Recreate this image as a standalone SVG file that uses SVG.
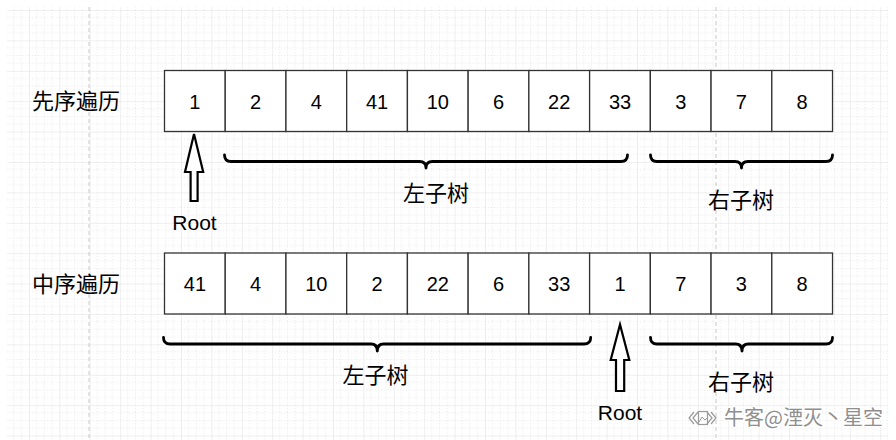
<svg xmlns="http://www.w3.org/2000/svg" width="896" height="440" viewBox="0 0 896 440">
<style>
.cell{fill:#ffffff;stroke:#333333;stroke-width:1.3}
.num{font-family:"Liberation Sans",Arial,sans-serif;font-size:20px;fill:#000;text-anchor:middle}
.cjk{font-family:"Liberation Sans","Noto Sans CJK SC",sans-serif;font-size:22px;fill:#000;text-anchor:middle}
.root{font-family:"Liberation Sans",Arial,sans-serif;font-size:21px;fill:#000;text-anchor:middle}
.brace{fill:none;stroke:#000;stroke-width:2.8;stroke-linecap:round;stroke-linejoin:round}
.arrow{fill:#ffffff;stroke:#000;stroke-width:2.2;stroke-linejoin:miter}
.wm{font-family:"Noto Sans CJK SC",sans-serif;font-size:20px;fill:#8f8f8f;stroke:#ffffff;stroke-width:3;paint-order:stroke}
</style>
<defs>
<pattern id="grid" patternUnits="userSpaceOnUse" x="29" y="10" width="30.4" height="30.4">
<path d="M7.6 0V30.4M15.2 0V30.4M22.8 0V30.4M0 7.6H30.4M0 15.2H30.4M0 22.8H30.4" stroke="#e6e6e6" stroke-width="1" stroke-dasharray="1,2" fill="none"/>
<path d="M0 0V30.4M0 0H30.4" stroke="#e0e0e0" stroke-width="1" fill="none"/>
</pattern>
</defs>
<rect width="896" height="440" fill="#ffffff"/>
<rect x="7" y="7" width="881" height="433" fill="url(#grid)"/>
<path d="M89 7V440M716 7V440" stroke="#c8c8c8" stroke-width="1" stroke-dasharray="4,3" fill="none"/>

<g id="label-preorder"><text class="cjk" x="76" y="109">先序遍历</text></g>
<g id="label-inorder"><text class="cjk" x="76" y="292">中序遍历</text></g>

<g id="preorder">
<g id="p0"><rect class="cell" x="164.5" y="70.5" width="60.73" height="61"/><text class="num" x="194.9" y="108.5">1</text></g>
<g id="p1"><rect class="cell" x="225.23" y="70.5" width="60.73" height="61"/><text class="num" x="255.6" y="108.5">2</text></g>
<g id="p2"><rect class="cell" x="285.96" y="70.5" width="60.73" height="61"/><text class="num" x="316.3" y="108.5">4</text></g>
<g id="p3"><rect class="cell" x="346.69" y="70.5" width="60.73" height="61"/><text class="num" x="377.0" y="108.5">41</text></g>
<g id="p4"><rect class="cell" x="407.42" y="70.5" width="60.73" height="61"/><text class="num" x="437.8" y="108.5">10</text></g>
<g id="p5"><rect class="cell" x="468.15" y="70.5" width="60.73" height="61"/><text class="num" x="498.5" y="108.5">6</text></g>
<g id="p6"><rect class="cell" x="528.88" y="70.5" width="60.73" height="61"/><text class="num" x="559.2" y="108.5">22</text></g>
<g id="p7"><rect class="cell" x="589.61" y="70.5" width="60.73" height="61"/><text class="num" x="620.0" y="108.5">33</text></g>
<g id="p8"><rect class="cell" x="650.34" y="70.5" width="60.73" height="61"/><text class="num" x="680.7" y="108.5">3</text></g>
<g id="p9"><rect class="cell" x="711.07" y="70.5" width="60.73" height="61"/><text class="num" x="741.4" y="108.5">7</text></g>
<g id="p10"><rect class="cell" x="771.8" y="70.5" width="60.73" height="61"/><text class="num" x="802.1" y="108.5">8</text></g>
</g>

<g id="inorder">
<g id="i0"><rect class="cell" x="164.5" y="253" width="60.73" height="61"/><text class="num" x="194.9" y="291">41</text></g>
<g id="i1"><rect class="cell" x="225.23" y="253" width="60.73" height="61"/><text class="num" x="255.6" y="291">4</text></g>
<g id="i2"><rect class="cell" x="285.96" y="253" width="60.73" height="61"/><text class="num" x="316.3" y="291">10</text></g>
<g id="i3"><rect class="cell" x="346.69" y="253" width="60.73" height="61"/><text class="num" x="377.0" y="291">2</text></g>
<g id="i4"><rect class="cell" x="407.42" y="253" width="60.73" height="61"/><text class="num" x="437.8" y="291">22</text></g>
<g id="i5"><rect class="cell" x="468.15" y="253" width="60.73" height="61"/><text class="num" x="498.5" y="291">6</text></g>
<g id="i6"><rect class="cell" x="528.88" y="253" width="60.73" height="61"/><text class="num" x="559.2" y="291">33</text></g>
<g id="i7"><rect class="cell" x="589.61" y="253" width="60.73" height="61"/><text class="num" x="620.0" y="291">1</text></g>
<g id="i8"><rect class="cell" x="650.34" y="253" width="60.73" height="61"/><text class="num" x="680.7" y="291">7</text></g>
<g id="i9"><rect class="cell" x="711.07" y="253" width="60.73" height="61"/><text class="num" x="741.4" y="291">3</text></g>
<g id="i10"><rect class="cell" x="771.8" y="253" width="60.73" height="61"/><text class="num" x="802.1" y="291">8</text></g>
</g>

<g id="connectors">
<path class="arrow" d="M194 134L203.2 172H197.6V201H190.6V172H185Z"/>
<path class="arrow" d="M620 324.5L629.3 360H624.2V391H616V360H610.7Z"/>
<path class="brace" d="M224.5 155Q224.5 161.5 231 161.5H419.5Q426 161.5 426 168Q426 161.5 432.5 161.5H621Q627.5 161.5 627.5 155"/>
<path class="brace" d="M650.5 155Q650.5 161.5 657 161.5H735Q741.5 161.5 741.5 168Q741.5 161.5 748 161.5H826Q832.5 161.5 832.5 155"/>
<path class="brace" d="M163.5 337.5Q163.5 344 170 344H371Q377.3 344 377.3 351Q377.3 344 383.6 344H584Q590.7 344 590.7 337.5"/>
<path class="brace" d="M650.5 337.5Q650.5 344 657 344H735.5Q742 344 742 351Q742 344 748.5 344H826Q832.5 344 832.5 337.5"/>
</g>

<g id="label-root1"><text class="root" x="194.5" y="230">Root</text></g>
<g id="label-root2"><text class="root" x="620" y="419.5">Root</text></g>
<g id="label-left1"><text class="cjk" x="436" y="200.5">左子树</text></g>
<g id="label-right1"><text class="cjk" x="741" y="208">右子树</text></g>
<g id="label-left2"><text class="cjk" x="375.5" y="383">左子树</text></g>
<g id="label-right2"><text class="cjk" x="741" y="390">右子树</text></g>

<g id="watermark">
<path d="M694 412L689 418L694 424M698 412L693 418L698 424M711 412L716 418L711 424M707 412L712 418L707 424" fill="none" stroke="#9a9a9a" stroke-width="1.2"/>
<rect x="698.5" y="411.5" width="9" height="13" fill="none" stroke="#9a9a9a" stroke-width="1.2"/>
<path d="M699 422L702 417L705 420L707 418" fill="none" stroke="#9a9a9a" stroke-width="1"/>
<text class="wm" x="724" y="425">牛客@湮灭丶星空</text>
</g>
</svg>
